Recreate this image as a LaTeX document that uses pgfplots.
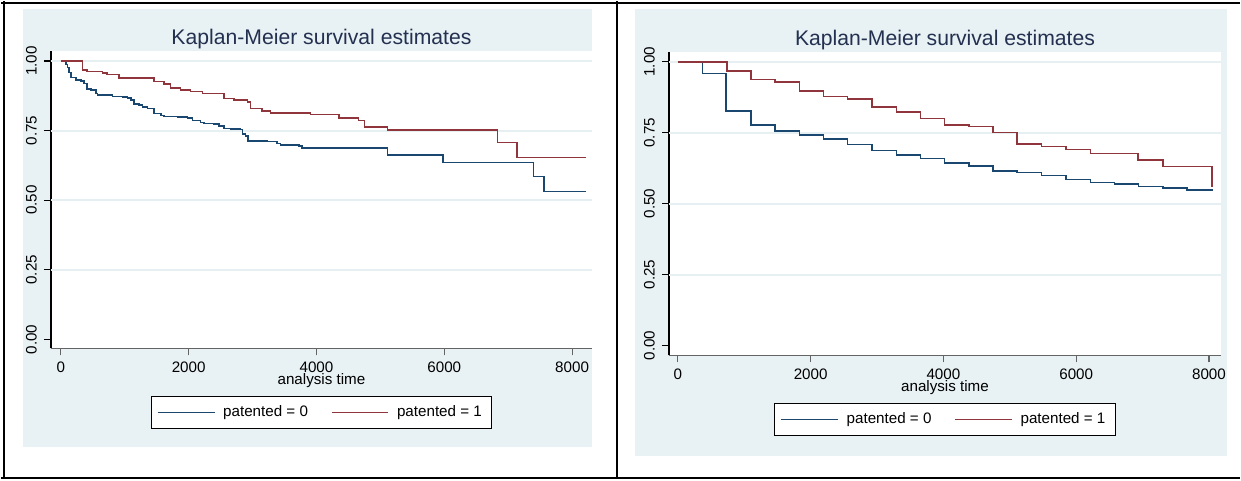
\documentclass[border=0pt]{standalone}
\usepackage{pgfplots}
\pgfplotsset{compat=1.18}
\usepackage{fontspec}
\setmainfont{Liberation Sans}
\definecolor{bgc}{RGB}{232,241,243}
\definecolor{gridc}{RGB}{230,239,242}
\definecolor{navyc}{RGB}{26,71,111}
\definecolor{maroonc}{RGB}{144,53,59}
\definecolor{titlec}{RGB}{35,48,80}
\definecolor{xaxc}{RGB}{100,100,100}
\pgfplotsset{
  kmstyle/.style={
    scale only axis,
    anchor=south west,
    axis background/.style={fill=white},
    axis x line*=bottom, axis y line*=left,
    x axis line style={-, draw=xaxc, line width=0.9pt},
    y axis line style={-, draw=black, line width=0.6pt},
    tick align=outside, xtick pos=bottom, ytick pos=left,
    major tick length=3.5pt,
    xtick style={draw=xaxc, line width=0.6pt},
    ytick style={draw=black, line width=0.6pt},
    xtick={0,2000,4000,6000,8000},
    xticklabels={0,2000,4000,6000,8000},
    ytick={0,0.25,0.5,0.75,1},
    yticklabels={0.00,0.25,0.50,0.75,1.00},
    extra y ticks={0.25,0.5,0.75,1},
    extra y tick labels={},
    extra y tick style={grid=major, major tick length=0pt},
    grid style={draw=gridc, line width=1pt},
    ticklabel style={font=\fontsize{7.6}{8}\selectfont, text=black},
    xticklabel style={yshift=0.5pt},
    yticklabel style={rotate=90, anchor=south},
    every axis title shift=0pt,
    title={Kaplan-Meier survival estimates},
    title style={at={(0.5,1)}, anchor=base, yshift=3.4pt, font=\fontsize{10.6}{12}\selectfont, text=titlec},
    xlabel={analysis time},
    xlabel style={at={(axis description cs:0.5,0)}, anchor=base, yshift=-18.3pt, font=\fontsize{7.6}{8}\selectfont},
    legend columns=2,
    legend style={at={(0.5,0)}, anchor=north, yshift=-24pt, draw=black, line width=0.5pt, fill=white,
      font=\fontsize{7.6}{9}\selectfont, inner xsep=3pt, inner ysep=2.3pt,
      /tikz/every odd column/.append style={column sep=2pt},
      /tikz/every even column/.append style={column sep=9.5pt}},
    legend image code/.code={\draw[#1, line width=0.6pt] (0pt,0pt) -- (28.5pt,0pt);},
    legend cell align=left,
  }
}
\pgfplotstableread{
t s
0 1.000
78 0.988
104 0.976
130 0.958
156 0.940
234 0.932
313 0.928
365 0.919
406 0.899
469 0.895
547 0.883
573 0.878
807 0.872
964 0.871
1042 0.867
1094 0.859
1146 0.846
1224 0.842
1276 0.835
1354 0.829
1458 0.811
1563 0.805
1615 0.800
1823 0.799
1979 0.795
2057 0.787
2188 0.779
2240 0.775
2396 0.773
2474 0.767
2552 0.757
2656 0.755
2813 0.753
2839 0.737
2891 0.731
2927 0.713
3229 0.710
3385 0.704
3438 0.698
3724 0.695
3776 0.688
5115 0.662
5979 0.636
7396 0.585
7563 0.532
8214 0.532
}\leftzero
\pgfplotstableread{
t s
0 1.000
339 0.968
406 0.962
651 0.956
719 0.952
911 0.939
1458 0.927
1615 0.917
1719 0.902
1875 0.895
2031 0.891
2214 0.883
2552 0.865
2708 0.859
2917 0.853
2969 0.830
3151 0.821
3281 0.814
3906 0.808
4349 0.796
4661 0.787
4750 0.763
5115 0.752
6833 0.707
7135 0.653
8214 0.653
}\leftone
\pgfplotstableread{
t s
0 1.000
371 0.959
727 0.827
1103 0.778
1464 0.756
1830 0.742
2191 0.728
2557 0.709
2922 0.687
3294 0.671
3655 0.660
4016 0.644
4382 0.633
4743 0.616
5109 0.609
5475 0.599
5846 0.585
6212 0.574
6577 0.569
6938 0.561
7305 0.556
7666 0.549
8042 0.547
}\rightzero
\pgfplotstableread{
t s
0 1.000
737 0.968
1098 0.937
1464 0.929
1830 0.897
2191 0.878
2557 0.869
2922 0.840
3294 0.824
3655 0.800
4016 0.778
4382 0.772
4743 0.750
5109 0.710
5475 0.702
5846 0.691
6212 0.676
6928 0.654
7305 0.631
8042 0.557
}\rightone
\begin{document}
\begin{tikzpicture}
\path (0,0) rectangle (620.5pt,239.5pt);
\fill[bgc] (11pt,16pt) rectangle (296pt,235.5pt);
\fill[bgc] (317.5pt,11.5pt) rectangle (614pt,235.5pt);
\draw[black, line width=1pt] (0,238.5pt) -- (620.5pt,238.5pt);
\draw[black, line width=1pt] (0,0.5pt) -- (620.5pt,0.5pt);
\draw[black, line width=1pt] (1.5pt,0) -- (1.5pt,239.5pt);
\draw[black, line width=1pt] (308.5pt,0) -- (308.5pt,239.5pt);
\begin{axis}[kmstyle, at={(25pt,65.5pt)}, width=271pt, height=149pt,
  xmin=-156, xmax=8312, ymin=-0.032, ymax=1.036]
\addplot[const plot, navyc, line width=0.75pt, mark=none] table[x=t,y=s] {\leftzero};
\addlegendentry{patented = 0}
\addplot[const plot, maroonc, line width=0.75pt, mark=none] table[x=t,y=s] {\leftone};
\addlegendentry{patented = 1}
\end{axis}
\begin{axis}[kmstyle, at={(334.5pt,62pt)}, width=276.5pt, height=152pt,
  xmin=-135, xmax=8182, ymin=-0.035, ymax=1.035]
\addplot[const plot, navyc, line width=0.75pt, mark=none] table[x=t,y=s] {\rightzero};
\addlegendentry{patented = 0}
\addplot[const plot, maroonc, line width=0.75pt, mark=none] table[x=t,y=s] {\rightone};
\addlegendentry{patented = 1}
\end{axis}
\end{tikzpicture}
\end{document}
